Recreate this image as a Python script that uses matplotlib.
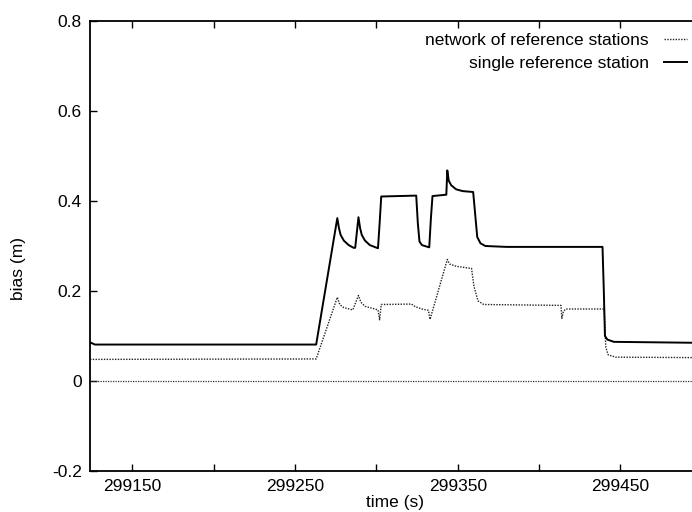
import matplotlib
matplotlib.use("Agg")
import matplotlib.pyplot as plt
import numpy as np

plt.rcParams['font.family'] = ['Liberation Sans', 'DejaVu Sans']

# single reference station (solid)
single_t = [299124, 299127, 299263, 299276, 299277, 299278, 299280, 299283, 299286, 299287,
            299289, 299290, 299291, 299293, 299296, 299301, 299302, 299303, 299324.5, 299325.5,
            299326.5, 299328, 299332.5, 299333.5, 299334.5, 299343, 299343.6, 299344.5, 299346,
            299349, 299353, 299359.5, 299360.5, 299362, 299364, 299367, 299380, 299400,
            299439, 299439.8, 299440.5, 299442, 299446, 299494]
single_v = [0.086, 0.081, 0.081, 0.362, 0.34, 0.325, 0.312, 0.302, 0.296, 0.296,
            0.364, 0.34, 0.325, 0.312, 0.302, 0.295, 0.35, 0.41, 0.412, 0.35,
            0.31, 0.302, 0.297, 0.36, 0.411, 0.414, 0.468, 0.445, 0.435,
            0.426, 0.422, 0.42, 0.38, 0.32, 0.306, 0.300, 0.298, 0.298,
            0.298, 0.2, 0.1, 0.092, 0.087, 0.085]

# network of reference stations (dotted)
network_t = [299124, 299263, 299276, 299277.5, 299280, 299285.5, 299289, 299290.5, 299293,
             299297, 299301, 299302, 299303, 299321.5, 299324, 299328, 299332, 299333,
             299343.6, 299345, 299349, 299358.5, 299360, 299362.5, 299366, 299413.5,
             299414, 299415, 299416.5, 299440, 299441, 299442.5, 299447, 299494]
network_v = [0.048, 0.049, 0.186, 0.17, 0.163, 0.158, 0.19, 0.175, 0.166,
             0.162, 0.158, 0.136, 0.17, 0.171, 0.165, 0.16, 0.157, 0.137,
             0.27, 0.26, 0.255, 0.25, 0.21, 0.178, 0.17, 0.168,
             0.139, 0.155, 0.16, 0.16, 0.075, 0.058, 0.053, 0.052]

xticks_major = [299150, 299250, 299350, 299450]
xticks_minor = [299200, 299300, 299400]
yticks = [-0.2, 0, 0.2, 0.4, 0.6, 0.8]
ytick_labels = ["-0.2", "0", "0.2", "0.4", "0.6", "0.8"]

fig = plt.figure(figsize=(6.92, 5.12), dpi=100)
ax = fig.add_axes([90 / 692, 1 - 471 / 512, 1 - 90 / 692, (471 - 21) / 512])

# gnuplot style zero axis
ax.axhline(0, color='#333333', linestyle=(0, (1, 1)), linewidth=0.9)
ax.plot(network_t, network_v, color='#222222', linestyle=(0, (1, 1)), linewidth=1.0,
        label='network of reference stations')
ax.plot(single_t, single_v, color='black', linestyle='-', linewidth=1.4,
        label='single reference station')

ax.set_xlim(299124, 299494)
ax.set_ylim(-0.2, 0.8)
ax.set_xticks(xticks_major)
ax.set_xticks(xticks_minor, minor=True)
ax.set_xticklabels([str(t) for t in xticks_major])
ax.set_yticks(yticks)
ax.set_yticklabels(ytick_labels)
ax.tick_params(which='both', direction='in', top=True, right=False, length=5, width=1,
               labelsize=12.5, pad=6)
for s in ax.spines.values():
    s.set_linewidth(1.3)
ax.spines['right'].set_visible(False)

ax.legend(loc='upper right', frameon=False, markerfirst=False, fontsize=12.5,
          handlelength=1.35, handletextpad=0.85, labelspacing=0.45,
          borderpad=0, borderaxespad=0,
          bbox_to_anchor=(687 / 692, 1 - 33 / 512), bbox_transform=fig.transFigure)

fig.text(18 / 692, 1 - 268 / 512, 'bias (m)', rotation=90, ha='center', va='center',
         fontsize=12.5)
fig.text(395 / 692, 1 - 503 / 512, 'time (s)', ha='center', va='center', fontsize=12.5)

fig.savefig('out.png', dpi=100)
